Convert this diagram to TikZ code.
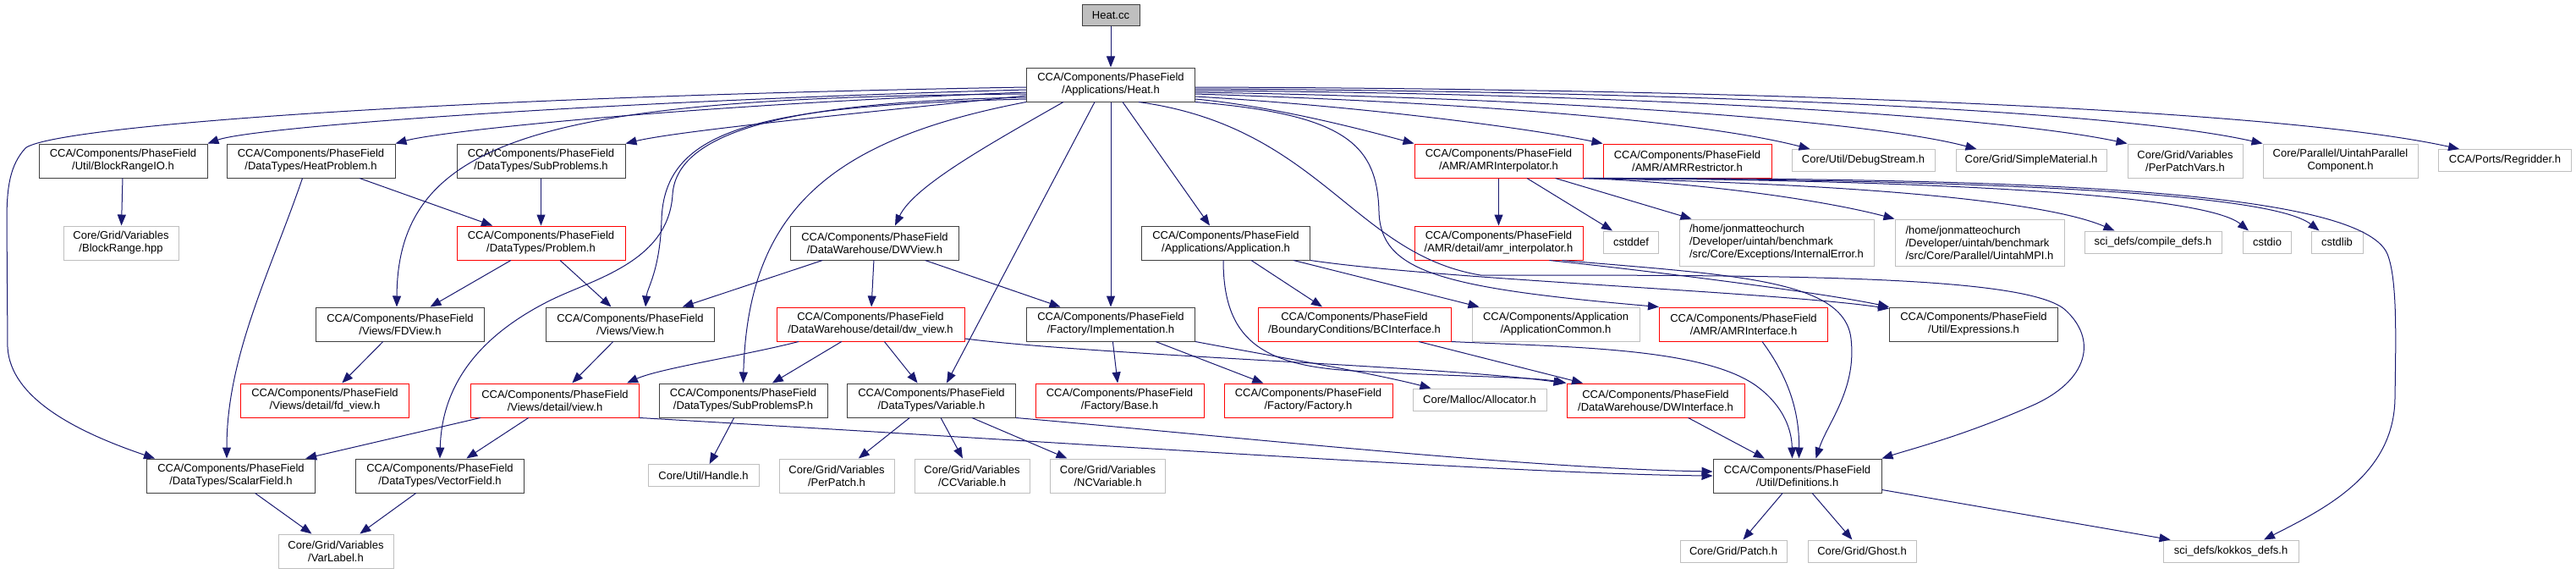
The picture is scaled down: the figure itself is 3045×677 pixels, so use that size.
\documentclass[tikz,border=0pt]{standalone}
\usepackage{fontspec}
\setmainfont{Liberation Sans}
\usetikzlibrary{arrows.meta}
\definecolor{edgeblue}{HTML}{191970}
\definecolor{boxgray}{HTML}{BFBFBF}
\definecolor{boxdark}{HTML}{404040}

\begin{document}
\begin{tikzpicture}[x=1pt,y=1pt,
  every node/.style={font=\fontsize{13}{15}\selectfont, align=center, inner sep=0pt,
    minimum width=199pt, minimum height=40pt, fill=white, line width=1pt},
  blackbox/.style={draw=boxdark},
  redbox/.style={draw=red},
  graybox/.style={draw=boxgray},
  onerow/.style={minimum height=26pt},
  threerow/.style={minimum height=55pt, align=left},
  dep/.style={draw=edgeblue, line width=1pt, -{Triangle[length=13pt,width=10pt]}}]
  \useasboundingbox (0,0) rectangle (3045,-677);
  % Source file and main header
  \node[blackbox, fill=boxgray, minimum width=68pt, minimum height=25pt] (heatcc) at (1313,-18.5) {Heat.cc};
  \node[blackbox] (heath) at (1313,-100) {CCA/Components/PhaseField\\/Applications/Heat.h};
  % First level
  \node[blackbox] (blockio) at (145.5,-190) {CCA/Components/PhaseField\\/Util/BlockRangeIO.h};
  \node[blackbox] (heatprob) at (367.5,-190) {CCA/Components/PhaseField\\/DataTypes/HeatProblem.h};
  \node[blackbox] (subprobs) at (639.5,-190) {CCA/Components/PhaseField\\/DataTypes/SubProblems.h};
  \node[redbox] (amrinterp) at (1771.5,-190) {CCA/Components/PhaseField\\/AMR/AMRInterpolator.h};
  \node[redbox] (amrrestr) at (1994.5,-190) {CCA/Components/PhaseField\\/AMR/AMRRestrictor.h};
  \node[graybox, onerow, minimum width=169pt] (debugstream) at (2202.5,-189.5) {Core/Util/DebugStream.h};
  \node[graybox, onerow, minimum width=178pt] (simplemat) at (2401,-189.5) {Core/Grid/SimpleMaterial.h};
  \node[graybox, minimum width=136pt] (perpatchvars) at (2583,-190) {Core/Grid/Variables\\/PerPatchVars.h};
  \node[graybox, minimum width=183pt] (uintahpc) at (2766.5,-190) {Core/Parallel/UintahParallel\\Component.h};
  \node[graybox, onerow, minimum width=157pt] (regridder) at (2961,-189.5) {CCA/Ports/Regridder.h};
  % Second level
  \node[graybox, minimum width=136pt] (blockrange) at (143,-287) {Core/Grid/Variables\\/BlockRange.hpp};
  \node[redbox] (problem) at (639.5,-287) {CCA/Components/PhaseField\\/DataTypes/Problem.h};
  \node[blackbox] (dwview) at (1034,-287) {CCA/Components/PhaseField\\/DataWarehouse/DWView.h};
  \node[blackbox] (application) at (1449,-287) {CCA/Components/PhaseField\\/Applications/Application.h};
  \node[redbox] (amrdetail) at (1771.5,-287) {CCA/Components/PhaseField\\/AMR/detail/amr\_interpolator.h};
  \node[graybox, onerow, minimum width=65pt] (cstddef) at (1928,-286) {cstddef};
  \node[graybox, threerow, minimum width=230pt] (internalerr) at (2100,-286.5) {/home/jonmatteochurch\\/Developer/uintah/benchmark\\/src/Core/Exceptions/InternalError.h};
  \node[graybox, threerow, minimum width=200pt] (uintahmpi) at (2340,-286.5) {/home/jonmatteochurch\\/Developer/uintah/benchmark\\/src/Core/Parallel/UintahMPI.h};
  \node[graybox, onerow, minimum width=162pt] (compiledefs) at (2545,-286) {sci\_defs/compile\_defs.h};
  \node[graybox, onerow, minimum width=57pt] (cstdio) at (2680,-286) {cstdio};
  \node[graybox, onerow, minimum width=61pt] (cstdlib) at (2762.5,-286) {cstdlib};
  % Third level
  \node[blackbox] (fdview) at (473,-383) {CCA/Components/PhaseField\\/Views/FDView.h};
  \node[blackbox] (view) at (745,-383) {CCA/Components/PhaseField\\/Views/View.h};
  \node[redbox, minimum width=222pt] (dwdetail) at (1029,-383) {CCA/Components/PhaseField\\/DataWarehouse/detail/dw\_view.h};
  \node[blackbox] (impl) at (1313,-383) {CCA/Components/PhaseField\\/Factory/Implementation.h};
  \node[redbox, minimum width=228pt] (bcinterface) at (1601,-383) {CCA/Components/PhaseField\\/BoundaryConditions/BCInterface.h};
  \node[graybox, minimum width=198pt] (appcommon) at (1839,-383) {CCA/Components/Application\\/ApplicationCommon.h};
  \node[redbox] (amrinterface) at (2061,-383) {CCA/Components/PhaseField\\/AMR/AMRInterface.h};
  \node[blackbox] (expressions) at (2333,-383) {CCA/Components/PhaseField\\/Util/Expressions.h};
  % Fourth level
  \node[redbox] (fdviewdetail) at (384,-473) {CCA/Components/PhaseField\\/Views/detail/fd\_view.h};
  \node[redbox] (viewdetail) at (656,-473) {CCA/Components/PhaseField\\/Views/detail/view.h};
  \node[blackbox] (subprobsp) at (878.5,-473) {CCA/Components/PhaseField\\/DataTypes/SubProblemsP.h};
  \node[blackbox] (variable) at (1101,-473) {CCA/Components/PhaseField\\/DataTypes/Variable.h};
  \node[redbox] (factbase) at (1323.5,-473) {CCA/Components/PhaseField\\/Factory/Base.h};
  \node[redbox] (factory) at (1546.5,-473) {CCA/Components/PhaseField\\/Factory/Factory.h};
  \node[graybox, onerow, minimum width=158pt] (allocator) at (1749,-472) {Core/Malloc/Allocator.h};
  \node[redbox, minimum width=210pt] (dwinterface) at (1957,-473) {CCA/Components/PhaseField\\/DataWarehouse/DWInterface.h};
  % Fifth level
  \node[blackbox] (scalarfield) at (273,-562) {CCA/Components/PhaseField\\/DataTypes/ScalarField.h};
  \node[blackbox] (vectorfield) at (520,-562) {CCA/Components/PhaseField\\/DataTypes/VectorField.h};
  \node[graybox, onerow, minimum width=131pt] (handle) at (831.5,-561.5) {Core/Util/Handle.h};
  \node[graybox, minimum width=136pt] (perpatch) at (989,-562) {Core/Grid/Variables\\/PerPatch.h};
  \node[graybox, minimum width=136pt] (ccvar) at (1149,-562) {Core/Grid/Variables\\/CCVariable.h};
  \node[graybox, minimum width=136pt] (ncvar) at (1309.5,-562) {Core/Grid/Variables\\/NCVariable.h};
  \node[blackbox] (definitions) at (2124.5,-562) {CCA/Components/PhaseField\\/Util/Definitions.h};
  % Bottom level
  \node[graybox, minimum width=136pt] (varlabel) at (397,-651) {Core/Grid/Variables\\/VarLabel.h};
  \node[graybox, onerow, minimum width=126pt] (patch) at (2049,-651) {Core/Grid/Patch.h};
  \node[graybox, onerow, minimum width=128pt] (ghost) at (2201,-651) {Core/Grid/Ghost.h};
  \node[graybox, onerow, minimum width=160pt] (kokkos) at (2637,-651) {sci\_defs/kokkos\_defs.h};

  % Heat.cc and Heat.h
  \draw[dep] (heatcc) -- (heath);
  \draw[dep] ([yshift=-3pt]heath.west) .. controls (500,-115) and (60,-150) .. (30,-175) .. controls (12,-195) and (8,-220) .. (8,-260) -- (9,-410) .. controls (12,-470) and (90,-510) .. ([xshift=10pt]scalarfield.north west);
  \draw[dep] ([yshift=-6pt]heath.west) .. controls (700,-120) and (300,-150) .. (blockio.north east);
  \draw[dep] ([yshift=-9pt]heath.west) .. controls (800,-125) and (520,-155) .. (heatprob.north east);
  \draw[dep] ([yshift=-11pt]heath.west) .. controls (650,-115) and (470,-160) .. ([xshift=-4pt]fdview.north);
  \draw[dep] ([yshift=-13pt]heath.west) .. controls (1000,-135) and (800,-155) .. (subprobs.north east);
  \draw[dep] ([yshift=-15pt]heath.west) .. controls (950,-120) and (800,-150) .. (795,-230) .. controls (790,-310) and (700,-330) .. (650,-355) .. controls (560,-400) and (522,-460) .. (vectorfield.north);
  \draw[dep] ([yshift=-17pt]heath.west) .. controls (900,-125) and (785,-150) .. (782,-260) .. controls (780,-320) and (765,-340) .. ([xshift=18pt]view.north);
  \draw[dep] (heath.south west) .. controls (980,-165) and (884,-250) .. (subprobsp.north);
  \draw[dep] ([xshift=-56pt]heath.south) .. controls (1170,-170) and (1080,-220) .. ([xshift=24pt]dwview.north);
  \draw[dep] ([xshift=-19pt]heath.south) -- ([xshift=18pt]variable.north);
  \draw[dep] (heath) -- (impl);
  \draw[dep] ([xshift=14pt]heath.south) -- ([xshift=-19pt]application.north);
  \draw[dep] (heath.south east) .. controls (1590,-135) and (1628,-170) .. (1630,-250) .. controls (1632,-320) and (1700,-340) .. (amrinterface.north west);
  \draw[dep] ([xshift=33pt]heath.south) .. controls (1560,-150) and (1600,-300) .. (1750,-325) .. controls (2100,-325) and (2390,-325) .. (2440,-365) .. controls (2480,-400) and (2470,-450) .. (2400,-480) .. controls (2320,-515) and (2260,-530) .. (definitions.north east);
  \draw[dep] ([yshift=-17pt]heath.east) .. controls (1500,-125) and (1600,-150) .. (amrinterp.north west);
  \draw[dep] ([yshift=-14pt]heath.east) .. controls (1600,-125) and (1800,-150) .. (amrrestr.north west);
  \draw[dep] ([yshift=-11pt]heath.east) .. controls (1700,-120) and (2000,-140) .. ([xshift=22pt]debugstream.north west);
  \draw[dep] ([yshift=-9pt]heath.east) .. controls (1800,-115) and (2200,-140) .. ([xshift=25pt]simplemat.north west);
  \draw[dep] ([yshift=-7pt]heath.east) .. controls (1900,-110) and (2350,-135) .. (perpatchvars.north west);
  \draw[dep] ([yshift=-5pt]heath.east) .. controls (2000,-108) and (2500,-130) .. (uintahpc.north west);
  \draw[dep] ([yshift=-3pt]heath.east) .. controls (2100,-105) and (2700,-130) .. ([xshift=25pt]regridder.north west);
  % Left branch
  \draw[dep] (blockio) -- (blockrange);
  \draw[dep] (heatprob) -- (problem);
  \draw[dep] ([xshift=-10pt]heatprob.south) .. controls (320,-320) and (268,-420) .. ([xshift=-5pt]scalarfield.north);
  \draw[dep] (subprobs) -- (problem);
  \draw[dep] (problem) -- (fdview);
  \draw[dep] (problem) -- (view);
  \draw[dep] (fdview) -- (fdviewdetail);
  \draw[dep] (view) -- (viewdetail);
  \draw[dep] (viewdetail) -- (scalarfield);
  \draw[dep] (viewdetail) -- (vectorfield);
  \draw[dep] (viewdetail.south east) .. controls (1300,-525) and (1800,-560) .. (definitions.west);
  \draw[dep] (scalarfield) -- (varlabel);
  \draw[dep] (vectorfield) -- (varlabel);
  \draw[dep] (subprobsp) -- (handle);
  % Data warehouse and factory
  \draw[dep] (dwview) -- (view);
  \draw[dep] (dwview) -- (dwdetail);
  \draw[dep] (dwview) -- (impl);
  \draw[dep] ([xshift=-85pt]dwdetail.south) .. controls (880,-420) and (780,-435) .. ([xshift=85pt]viewdetail.north);
  \draw[dep] (dwdetail) -- (subprobsp);
  \draw[dep] (dwdetail) -- (variable);
  \draw[dep] ([yshift=-17pt]dwdetail.east) .. controls (1300,-420) and (1700,-432) .. ([xshift=-2pt]dwinterface.north west);
  \draw[dep] (variable) -- (perpatch);
  \draw[dep] (variable) -- (ccvar);
  \draw[dep] (variable) -- (ncvar);
  \draw[dep] (variable.south east) .. controls (1450,-515) and (1800,-553) .. ([yshift=5pt]definitions.west);
  \draw[dep] (impl) -- (factbase);
  \draw[dep] (impl) -- (factory);
  \draw[dep] (impl.south east) .. controls (1500,-420) and (1620,-440) .. ([xshift=22pt]allocator.north west);
  % Application
  \draw[dep] ([xshift=-20pt]application.south east) -- ([xshift=9pt]appcommon.north west);
  \draw[dep] ([xshift=30pt]application.south) -- ([xshift=-38pt]bcinterface.north);
  \draw[dep] ([xshift=-3pt]application.south) .. controls (1446,-400) and (1490,-432) .. (1600,-438) .. controls (1720,-445) and (1810,-445) .. (dwinterface.north west);
  \draw[dep] (application.south east) .. controls (1700,-330) and (2100,-345) .. ([yshift=-2pt]expressions.north west);
  \draw[dep] ([xshift=76pt]bcinterface.south) -- ([xshift=-86pt]dwinterface.north);
  \draw[dep] (bcinterface.south east) .. controls (1850,-410) and (2010,-410) .. (2075,-455) .. controls (2110,-480) and (2118,-510) .. ([xshift=-6pt]definitions.north);
  \draw[dep] ([xshift=22pt]amrinterface.south) .. controls (2110,-440) and (2127,-480) .. ([xshift=2pt]definitions.north);
  \draw[dep] (dwinterface) -- (definitions);
  % AMR interpolator
  \draw[dep] (amrinterp) -- (amrdetail);
  \draw[dep] (amrinterp) -- (cstddef);
  \draw[dep] ([xshift=67pt]amrinterp.south) -- ([xshift=15pt]internalerr.north west);
  \draw[dep] (amrinterp.south east) .. controls (2000,-215) and (2150,-235) .. (uintahmpi.north west);
  \draw[dep] (amrinterp.south east) .. controls (2100,-215) and (2400,-230) .. ([xshift=36pt]compiledefs.north west);
  \draw[dep] (amrinterp.south east) .. controls (2200,-212) and (2600,-225) .. ([xshift=7pt]cstdio.north west);
  \draw[dep] (amrinterp.south east) .. controls (2300,-212) and (2680,-225) .. ([xshift=10pt]cstdlib.north west);
  \draw[dep] (amrinterp.south east) .. controls (2400,-210) and (2790,-225) .. (2822,-300) .. controls (2834,-330) and (2832,-400) .. (2831,-470) .. controls (2830,-560) and (2750,-600) .. ([xshift=39pt]kokkos.north);
  \draw[dep] ([xshift=60pt]amrdetail.south) .. controls (1950,-320) and (2150,-345) .. (expressions.north west);
  \draw[dep] ([xshift=75pt]amrdetail.south) .. controls (2050,-325) and (2180,-330) .. (2188,-400) .. controls (2195,-460) and (2160,-500) .. ([xshift=22pt]definitions.north);
  % Definitions
  \draw[dep] (definitions) -- (patch);
  \draw[dep] (definitions) -- (ghost);
  \draw[dep] ([yshift=4pt]definitions.south east) -- ([xshift=9pt]kokkos.north west);
\end{tikzpicture}
\end{document}
